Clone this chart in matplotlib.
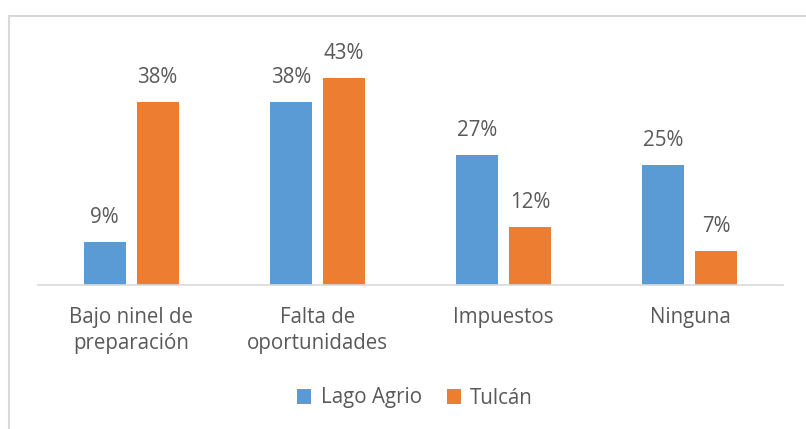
import matplotlib.pyplot as plt
import numpy as np
from matplotlib.patches import Rectangle

CATEGORIES = ['Bajo ninel de\npreparación', 'Falta de\noportunidades', 'Impuestos', 'Ninguna']
LAGO_AGRIO = [9, 38, 27, 25]
TULCAN = [38, 43, 12, 7]
SERIES = ['Lago Agrio', 'Tulcán']
COLORS = ['#5B9BD5', '#ED7D31']
TEXT = '#595959'
FS = 14.8

plt.rcParams['font.family'] = ['Open Sans', 'DejaVu Sans']

W, H = 806, 429
fig = plt.figure(figsize=(W / 100, H / 100), dpi=100)
ax = fig.add_axes([38 / W, 1 - 285 / H, (783 - 38) / W, (285 - 18) / H])

x = np.arange(len(CATEGORIES))
width = 0.225
off = 0.142
for vals, dx, color, name in [(LAGO_AGRIO, -off, COLORS[0], SERIES[0]),
                              (TULCAN, off, COLORS[1], SERIES[1])]:
    bars = ax.bar(x + dx, vals, width, color=color, label=name)
    for b, v in zip(bars, vals):
        ax.annotate(f'{v}%', (b.get_x() + b.get_width() / 2, v),
                    xytext=(0, 10), textcoords='offset points',
                    ha='center', va='bottom', fontsize=FS, color=TEXT)

ax.set_xlim(-0.5, 3.5)
ax.set_ylim(0, 55.5)
ax.set_yticks([])
ax.set_xticks(x)
ax.set_xticklabels(CATEGORIES, fontsize=FS, color=TEXT, linespacing=1.3)
ax.tick_params(axis='x', length=0, pad=16)
for s in ['top', 'left', 'right']:
    ax.spines[s].set_visible(False)
ax.spines['bottom'].set_color('#D9D9D9')
ax.spines['bottom'].set_linewidth(1.2)

fig.legend(loc='center', bbox_to_anchor=(415 / W, 1 - 398 / H), ncol=2,
           frameon=False, fontsize=FS, labelcolor=TEXT,
           handlelength=0.7, handleheight=0.7, handletextpad=0.45,
           columnspacing=1.2)

fig.patches.append(Rectangle((9 / W, -0.1), 1.0, (H - 16) / H + 0.1,
                             transform=fig.transFigure, fill=False,
                             edgecolor='#D9D9D9', linewidth=1.5))

fig.savefig('out.png', dpi=100, facecolor='white')
